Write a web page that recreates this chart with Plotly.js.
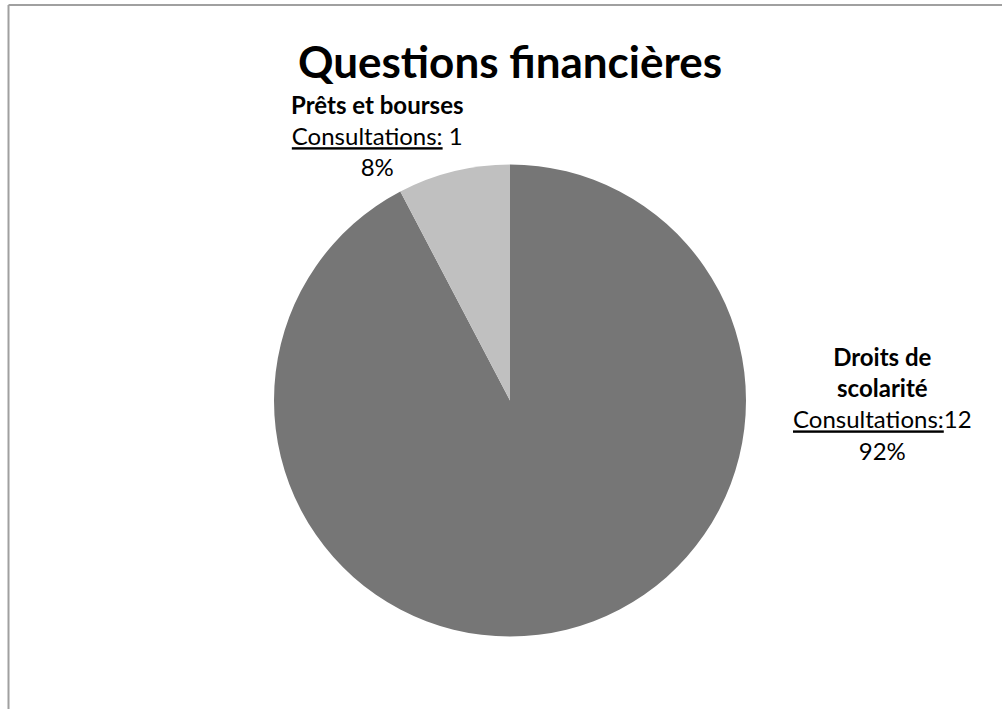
<!DOCTYPE html>
<html><head><meta charset="utf-8">
<script src="https://cdn.plot.ly/plotly-3.0.1.min.js"></script>
<style>html,body{margin:0;padding:0;background:#fff}#chart{width:1002px;height:709px}</style>
</head><body><div id="chart"></div>
<script>
const chartTitle = "Questions financières";
const categories = ["Droits de<br>scolarité", "Prêts et bourses"];
const values = [12, 1];
const countPrefix = ["Consultations:", "Consultations:"];
const countSep = ["", " "];
const colors = ["#767676", "#c0c0c0"];

const total = values.reduce((a, b) => a + b, 0);
const labelPos = [{x: 882, y: 403}, {x: 377, y: 135}];
const W = 1002, H = 709;

const annotations = categories.map((c, i) => ({
  xref: "paper", yref: "paper",
  x: labelPos[i].x / W, y: 1 - labelPos[i].y / H,
  xanchor: "center", yanchor: "middle", align: "center",
  showarrow: false,
  font: {family: "Lato, 'Noto Sans', sans-serif", size: 24, color: "#000"},
  text: "<b>" + c + "</b><br><span style='text-decoration:underline'>" + countPrefix[i] + "</span>" + countSep[i] + values[i] + "<br>" + Math.round(values[i] / total * 100) + "%"
}));

const data = [{
  type: "pie",
  labels: categories.map(c => c.replace("<br>", " ")),
  values: values,
  sort: false,
  direction: "clockwise",
  rotation: 0,
  marker: {colors: colors, line: {width: 0}},
  textinfo: "none",
  hoverinfo: "label+value+percent",
  showlegend: false,
  domain: {x: [274 / W, 746 / W], y: [1 - 637 / H, 1 - 164 / H]}
}];

const layout = {
  width: W, height: H,
  margin: {l: 0, r: 0, t: 0, b: 0},
  paper_bgcolor: "#fff",
  title: {
    text: "<b>" + chartTitle + "</b>",
    x: 510 / W, xanchor: "center",
    y: 1 - 63 / H, yanchor: "middle",
    font: {family: "Lato, 'Noto Sans', sans-serif", size: 44, color: "#000"}
  },
  annotations: annotations,
  shapes: [
    {type: "line", xref: "paper", yref: "paper", x0: 8.5 / W, x1: 8.5 / W, y0: 0, y1: 1 - 5 / H, line: {color: "#a0a0a0", width: 2}},
    {type: "line", xref: "paper", yref: "paper", x0: 8.5 / W, x1: 1, y0: 1 - 5 / H, y1: 1 - 5 / H, line: {color: "#a0a0a0", width: 2}}
  ]
};

Plotly.newPlot("chart", data, layout, {displayModeBar: false, staticPlot: true});
</script></body></html>
